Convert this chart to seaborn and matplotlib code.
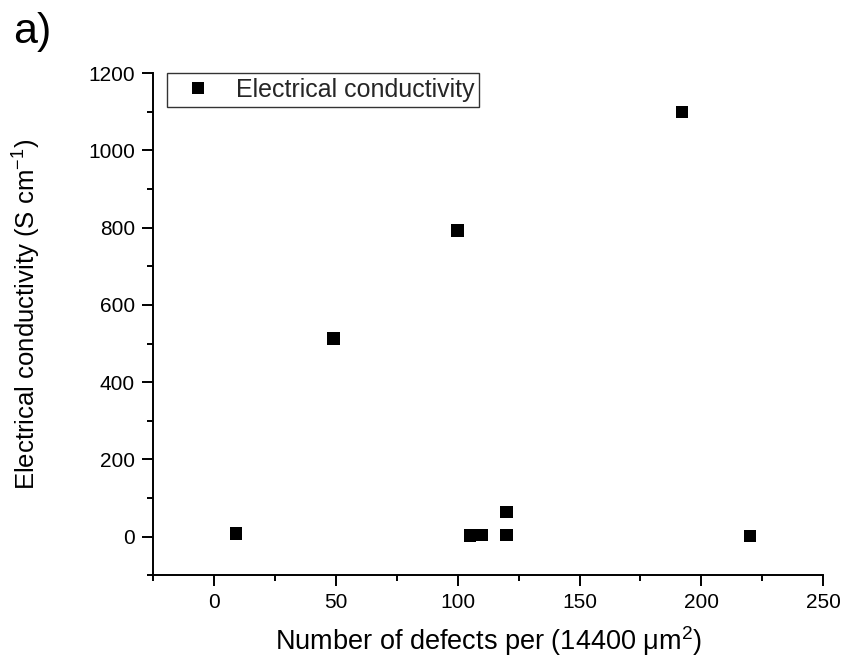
import matplotlib
matplotlib.use("Agg")
import matplotlib.pyplot as plt
from matplotlib.ticker import MultipleLocator
import seaborn as sns
import pandas as pd

# Defect counts and measured conductivity for each sample
defects = [9, 49, 100, 105, 110, 120, 120, 192, 220]
conductivity = [8, 513, 793, 3, 5, 5, 64, 1100, 2]
series_label = "Electrical conductivity"

df = pd.DataFrame({"defects": defects, "conductivity": conductivity,
                   "series": [series_label] * len(defects)})

sns.set_theme(style="ticks")
plt.rcParams["font.family"] = ["Liberation Sans", "DejaVu Sans"]
plt.rcParams["mathtext.fontset"] = "custom"
plt.rcParams["mathtext.rm"] = "Liberation Sans"
plt.rcParams["mathtext.it"] = "Liberation Sans"

fig = plt.figure(figsize=(8.46, 6.59), dpi=100)
ax = fig.add_axes([0.181, 0.127, 0.792, 0.762])

sns.scatterplot(data=df, x="defects", y="conductivity", hue="series",
                palette=["black"], marker="s", s=80, linewidth=0,
                ax=ax)

ax.set_xlim(-25, 250)
ax.set_ylim(-100, 1200)
ax.xaxis.set_major_locator(MultipleLocator(50))
ax.xaxis.set_minor_locator(MultipleLocator(25))
ax.yaxis.set_major_locator(MultipleLocator(200))
ax.yaxis.set_minor_locator(MultipleLocator(100))

for side in ("top", "right"):
    ax.spines[side].set_visible(False)
for side in ("left", "bottom"):
    ax.spines[side].set_linewidth(1.4)
    ax.spines[side].set_color("black")

ax.tick_params(axis="both", which="major", direction="out", length=8,
               width=1.4, color="black", labelsize=15, labelcolor="black", pad=5)
ax.tick_params(axis="both", which="minor", direction="out", length=4.5,
               width=1.4, color="black")

ax.set_xlabel("Number of defects per (14400 μm$^2$)", fontsize=19.5,
              color="black")
ax.set_ylabel("Electrical conductivity (S cm$^{-1}$)", fontsize=18.5,
              color="black")
ax.xaxis.set_label_coords(0.5, -0.097)
ax.yaxis.set_label_coords(-0.165, 0.52)

handles, labels = ax.get_legend_handles_labels()
leg = ax.legend(handles, labels, loc="upper left",
                bbox_to_anchor=(0.021, 1.0),
                fontsize=18, frameon=True, fancybox=False, borderpad=0.2,
                borderaxespad=0.0, handlelength=2.1, handletextpad=0.45,
                markerscale=0.9)
leg.get_frame().set_edgecolor("black")
leg.get_frame().set_linewidth(1.0)

fig.text(0.015, 1 - 12 / 659, "a)", fontsize=31, color="black", va="top")

fig.savefig("out.png", dpi=100)
